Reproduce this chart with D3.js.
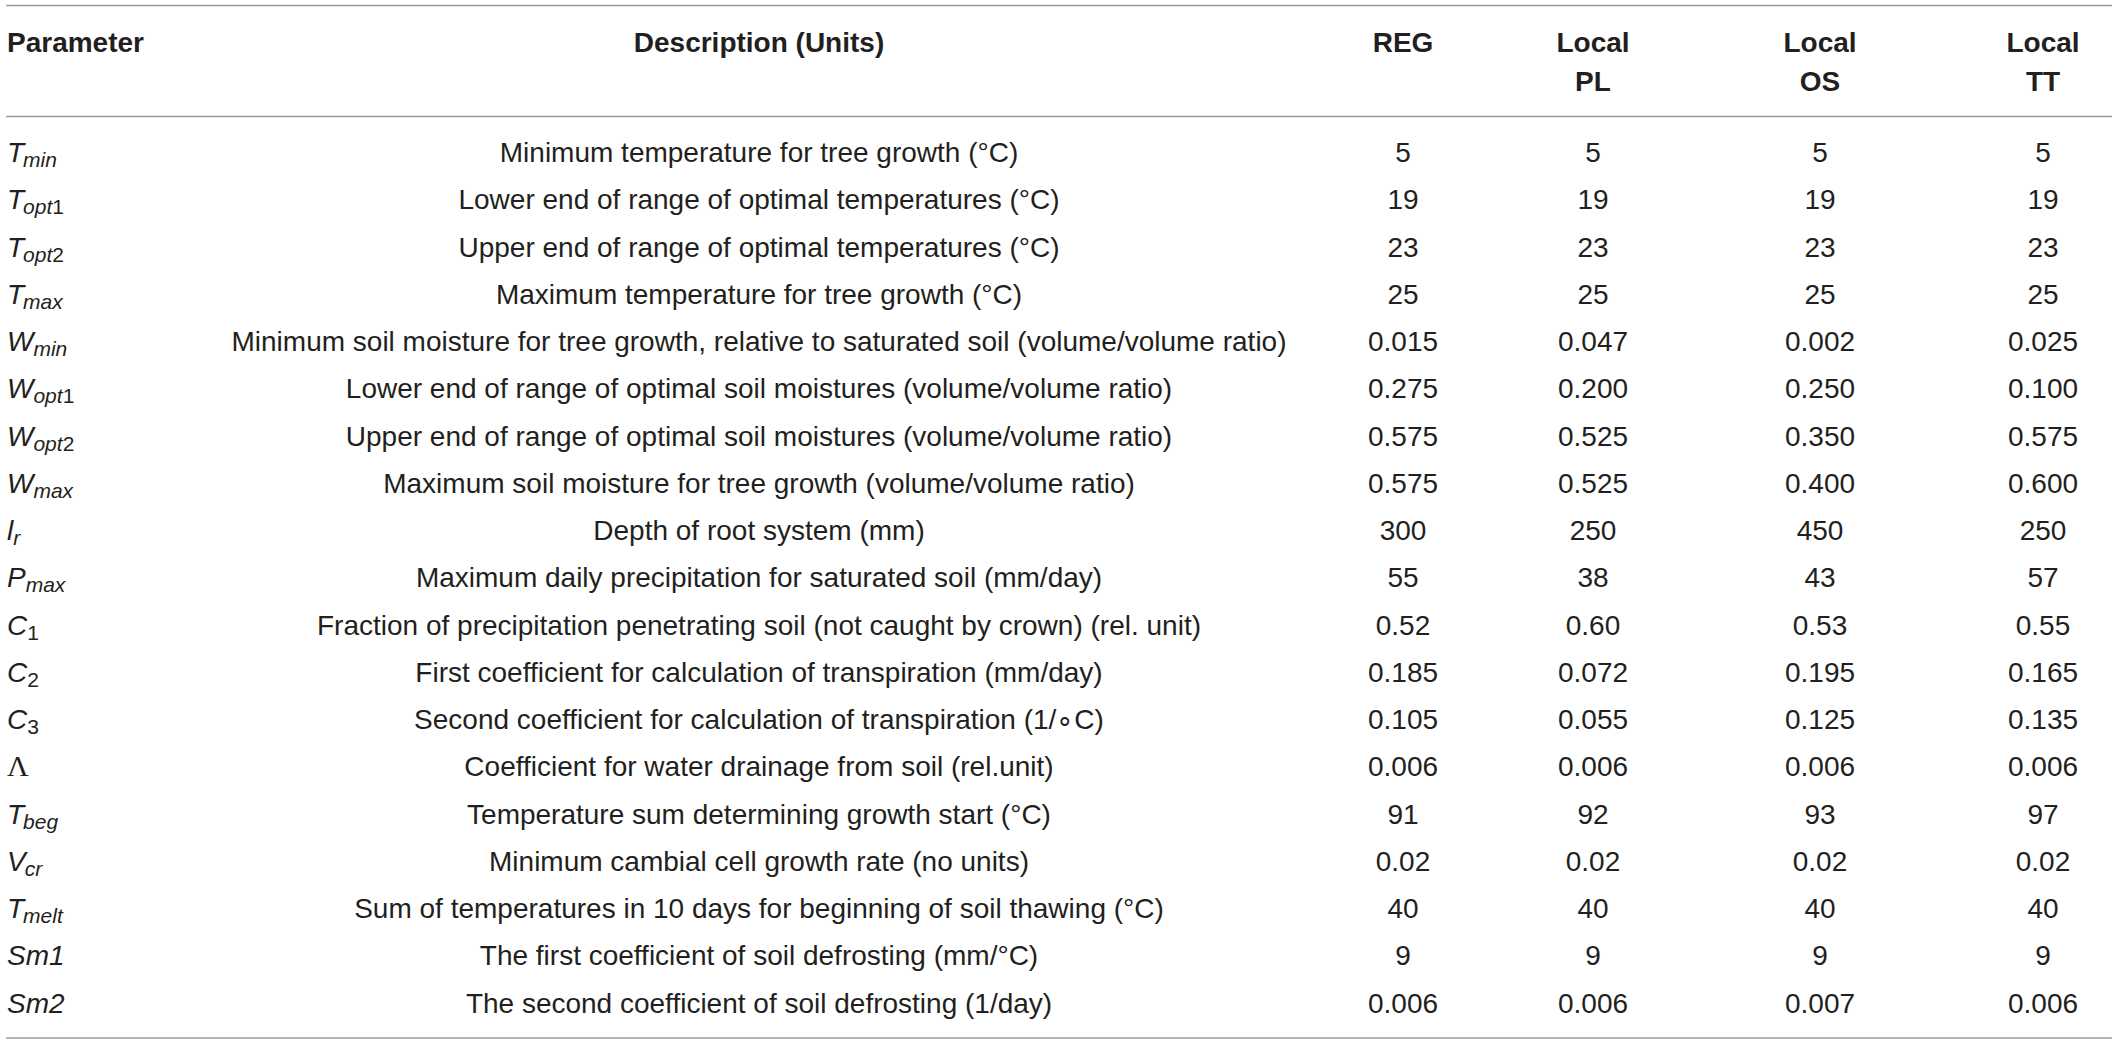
<!DOCTYPE html>
<html>
<head>
<meta charset="utf-8">
<script src="https://cdn.jsdelivr.net/npm/d3@7"></script>
<style>
  html, body { margin: 0; padding: 0; background: #fff; }
  svg { display: block; }
</style>
</head>
<body>
<svg id="chart" width="2118" height="1045"></svg>
<script>
// ---------- data ----------
const paramBase = ["T","T","T","T","W","W","W","W","l","P","C","C","C","Λ","T","V","T","Sm1","Sm2"];
const paramSubItalic = ["min","opt","opt","max","min","opt","opt","max","r","max","","","","","beg","cr","melt","",""];
const paramSubUpright = ["","1","2","","","1","2","","","","1","2","3","","","","","",""];

const descriptions = [
  "Minimum temperature for tree growth (°C)",
  "Lower end of range of optimal temperatures (°C)",
  "Upper end of range of optimal temperatures (°C)",
  "Maximum temperature for tree growth (°C)",
  "Minimum soil moisture for tree growth, relative to saturated soil (volume/volume ratio)",
  "Lower end of range of optimal soil moistures (volume/volume ratio)",
  "Upper end of range of optimal soil moistures (volume/volume ratio)",
  "Maximum soil moisture for tree growth (volume/volume ratio)",
  "Depth of root system (mm)",
  "Maximum daily precipitation for saturated soil (mm/day)",
  "Fraction of precipitation penetrating soil (not caught by crown) (rel. unit)",
  "First coefficient for calculation of transpiration (mm/day)",
  "Second coefficient for calculation of transpiration (1/∘C)",
  "Coefficient for water drainage from soil (rel.unit)",
  "Temperature sum determining growth start (°C)",
  "Minimum cambial cell growth rate (no units)",
  "Sum of temperatures in 10 days for beginning of soil thawing (°C)",
  "The first coefficient of soil defrosting (mm/°C)",
  "The second coefficient of soil defrosting (1/day)"
];

const columnKeys = ["REG","PL","OS","TT"];
const columnHeaders = [["REG"],["Local","PL"],["Local","OS"],["Local","TT"]];

const valuesREG = ["5","19","23","25","0.015","0.275","0.575","0.575","300","55","0.52","0.185","0.105","0.006","91","0.02","40","9","0.006"];
const valuesPL  = ["5","19","23","25","0.047","0.200","0.525","0.525","250","38","0.60","0.072","0.055","0.006","92","0.02","40","9","0.006"];
const valuesOS  = ["5","19","23","25","0.002","0.250","0.350","0.400","450","43","0.53","0.195","0.125","0.006","93","0.02","40","9","0.007"];
const valuesTT  = ["5","19","23","25","0.025","0.100","0.575","0.600","250","57","0.55","0.165","0.135","0.006","97","0.02","40","9","0.006"];
const columnValues = [valuesREG, valuesPL, valuesOS, valuesTT];

// ---------- layout ----------
const FONT = "'Liberation Sans', Arial, Helvetica, sans-serif";
const SERIF = "'Liberation Serif', 'DejaVu Serif', serif";
const TEXT = "#231f20";
const RULE = "#9a9a9a";
const fs = 28, subFs = 21;

const svg = d3.select("#chart");
const rowIdx = d3.range(paramBase.length);
const y = d3.scaleLinear().domain([0, rowIdx.length - 1]).range([162, 1012.5]);
const xCol = d3.scaleOrdinal().domain(columnKeys).range([1403, 1593, 1820, 2043]);
const xParam = 7, xDesc = 759;

// rules
const rules = [5.5, 116.5, 1038];
svg.selectAll("line.rule").data(rules).join("line")
  .attr("class","rule")
  .attr("x1", 6).attr("x2", 2112)
  .attr("y1", d => d).attr("y2", d => d)
  .attr("stroke", RULE).attr("stroke-width", 1.6);

// header
const hdr = svg.append("g").attr("font-family", FONT).attr("font-weight", "bold")
  .attr("font-size", fs).attr("fill", TEXT);
hdr.append("text").attr("x", xParam).attr("y", 52).text("Parameter");
hdr.append("text").attr("x", xDesc).attr("y", 52).attr("text-anchor","middle").text("Description (Units)");
columnKeys.forEach((k, i) => {
  columnHeaders[i].forEach((line, j) => {
    hdr.append("text").attr("x", xCol(k)).attr("y", 52 + j * 39)
      .attr("text-anchor","middle").text(line);
  });
});

// body
const body = svg.append("g").attr("font-family", FONT).attr("font-size", fs).attr("fill", TEXT);

// parameter column
rowIdx.forEach(i => {
  const t = body.append("text").attr("x", xParam).attr("y", y(i));
  const base = paramBase[i];
  if (base === "Λ") {
    t.append("tspan").attr("font-family", SERIF).attr("font-size", 30).text(base);
    return;
  }
  t.append("tspan").attr("font-style", "italic").text(base);
  const si = paramSubItalic[i], su = paramSubUpright[i];
  if (si || su) {
    let first = true;
    if (si) {
      t.append("tspan").attr("font-style","italic").attr("font-size", subFs)
        .attr("dy", 5).attr("dx", base === "T" || base === "V" ? -1 : 0).text(si);
      first = false;
    }
    if (su) {
      t.append("tspan").attr("font-size", subFs).attr("dy", first ? 5 : 0).text(su);
    }
  }
});

// description column
body.selectAll("text.desc").data(rowIdx).join("text")
  .attr("class","desc")
  .attr("x", xDesc).attr("y", d => y(d))
  .attr("text-anchor","middle")
  .text(d => descriptions[d]);

// value columns
columnKeys.forEach((k, ci) => {
  body.selectAll("text.val-" + k).data(rowIdx).join("text")
    .attr("class","val-" + k)
    .attr("x", xCol(k)).attr("y", d => y(d))
    .attr("text-anchor","middle")
    .text(d => columnValues[ci][d]);
});
</script>
</body>
</html>
